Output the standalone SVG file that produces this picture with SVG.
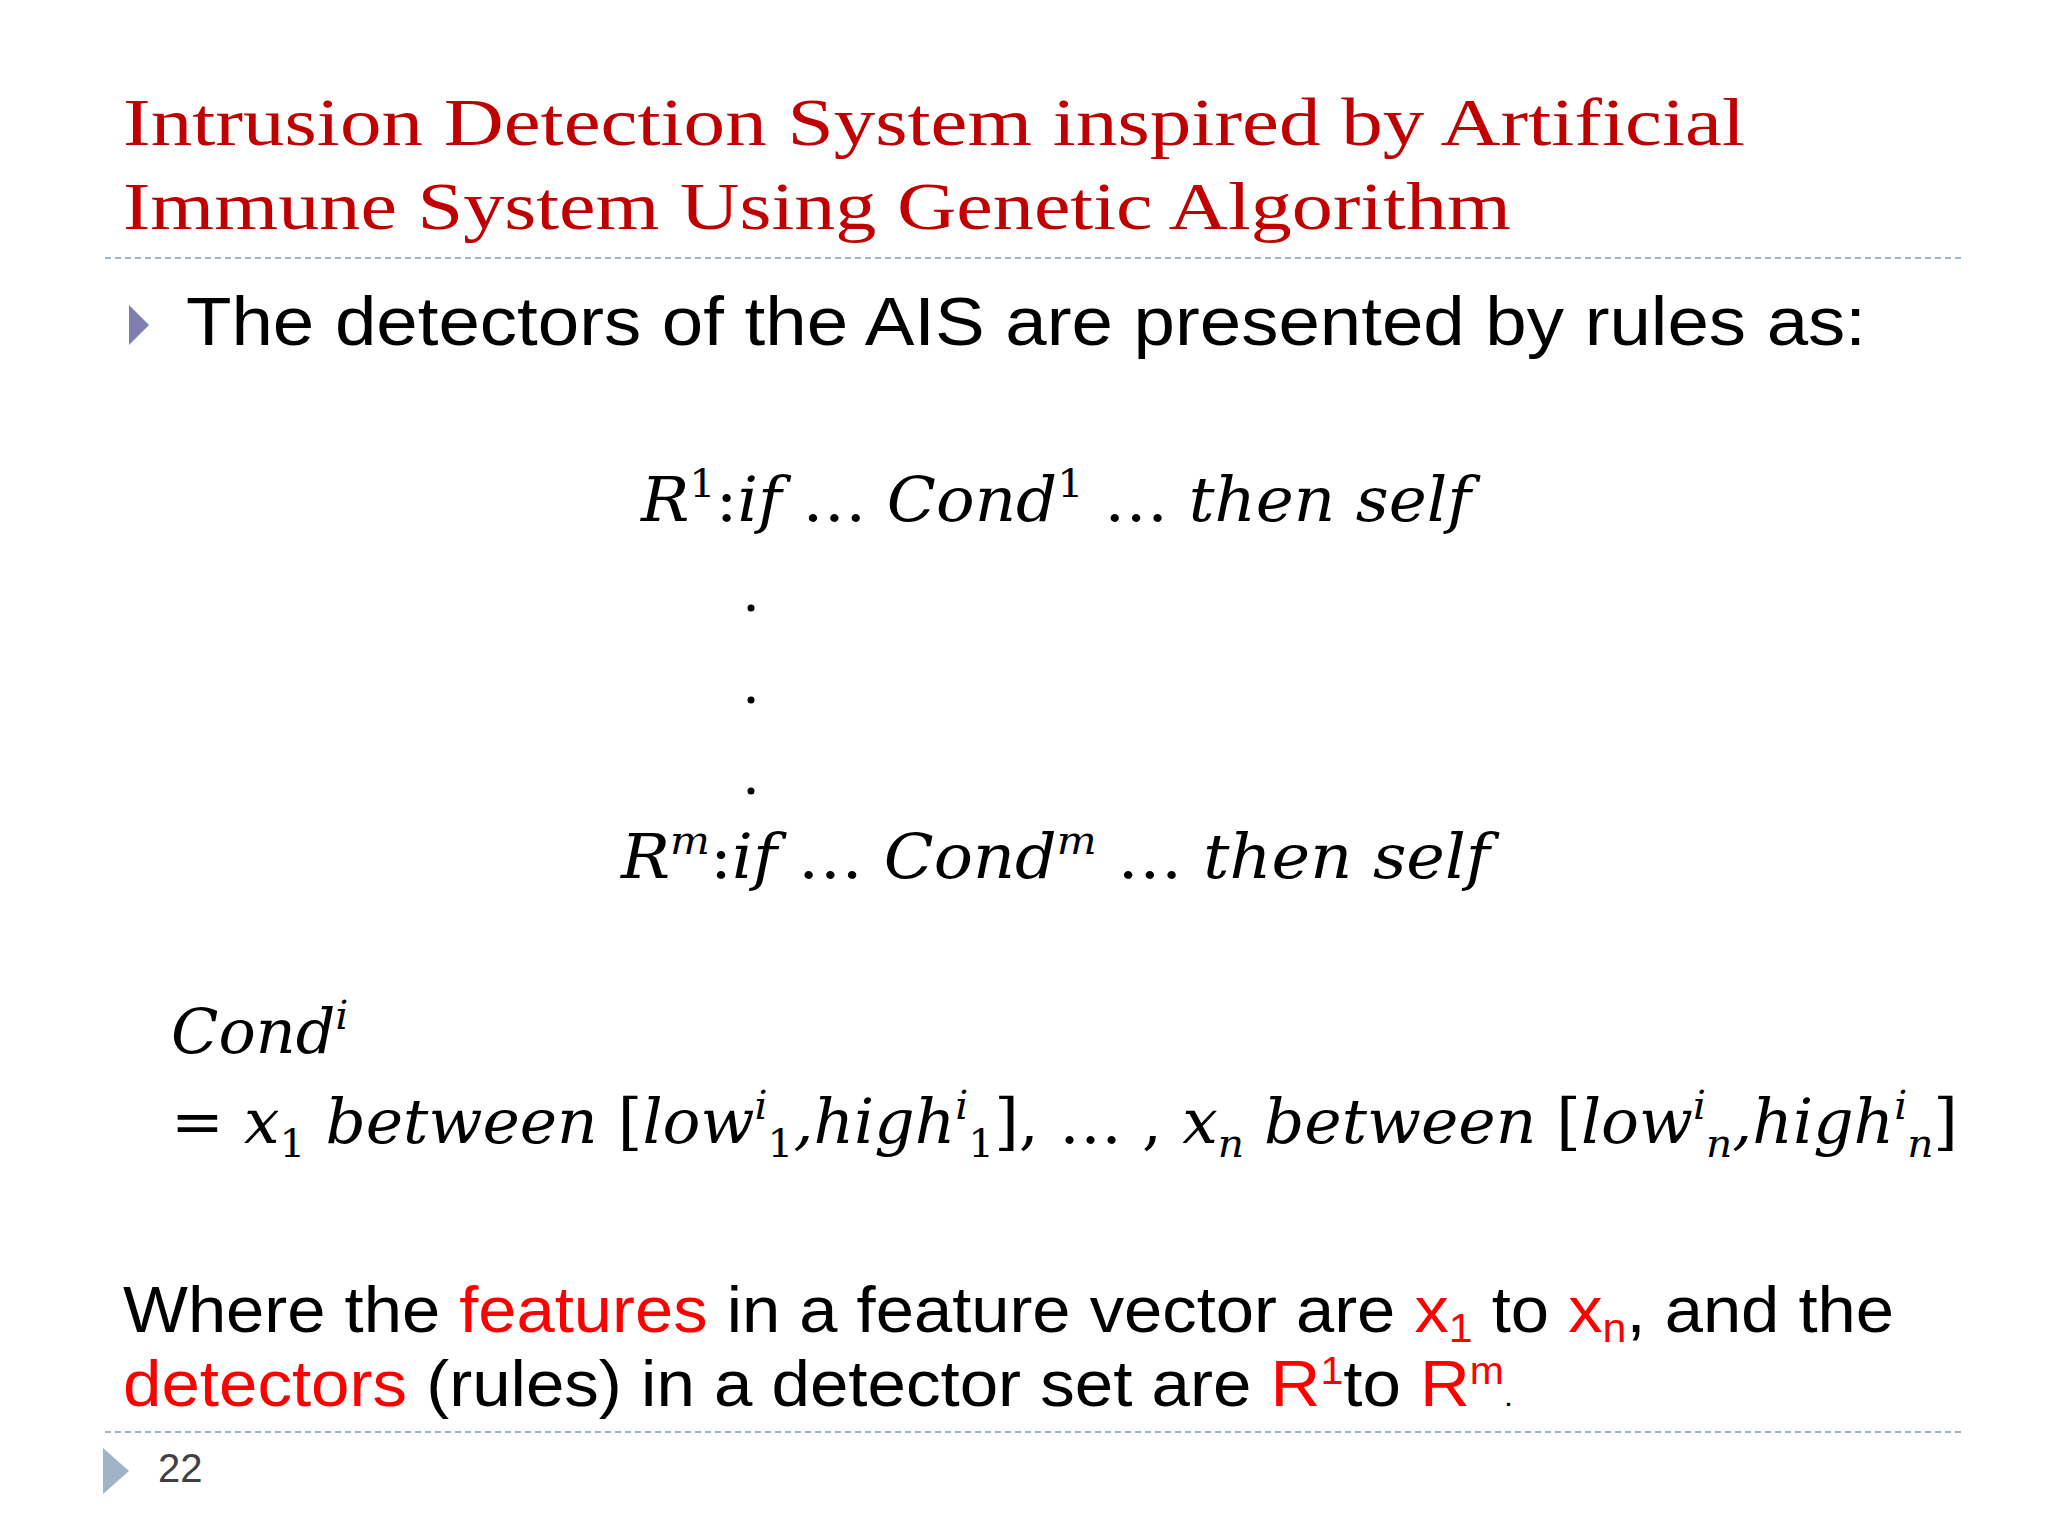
<svg xmlns="http://www.w3.org/2000/svg" width="2048" height="1536" viewBox="0 0 2048 1536">
<style>
.t{font-family:"Liberation Serif",serif;fill:#C00000;font-size:68px}
.b{font-family:"Liberation Sans",Arial,sans-serif;fill:#000}
.m{font-family:"DejaVu Serif","Liberation Serif",serif;font-style:italic;font-size:62px;fill:#000}
.r{fill:#FF0000}
.d{stroke:#A0B4C8;stroke-width:2;stroke-dasharray:6 4}
</style>
<rect width="2048" height="1536" fill="#fff"/>
<g id="title">
<text class="t" x="123" y="145" textLength="1622" lengthAdjust="spacingAndGlyphs">Intrusion Detection System inspired by Artificial</text>
<text class="t" x="123" y="229" textLength="1388" lengthAdjust="spacingAndGlyphs">Immune System Using Genetic Algorithm</text>
</g>
<line class="d" x1="105" y1="258" x2="1961" y2="258"/>
<g id="bullet">
<polygon points="129,305 149,325 129,345" fill="#7F7FAF"/>
<text class="b" x="186" y="345" font-size="69" textLength="1680" lengthAdjust="spacingAndGlyphs">The detectors of the AIS are presented by rules as:</text>
</g>
<g id="rules">
<text class="m" x="641" y="521" textLength="830" lengthAdjust="spacingAndGlyphs">R<tspan dy="-24" font-size="40" font-style="normal">1</tspan><tspan dy="24" font-style="normal">:</tspan>if  <tspan font-style="normal">…</tspan> Cond<tspan dy="-24" font-size="40" font-style="normal">1</tspan><tspan dy="24"> </tspan><tspan font-style="normal">…</tspan> then self</text>
<circle cx="751" cy="608" r="3.5"/>
<circle cx="751" cy="700" r="3.5"/>
<circle cx="751" cy="791" r="3.5"/>
<text class="m" x="621" y="878" textLength="869" lengthAdjust="spacingAndGlyphs">R<tspan dy="-24" font-size="40">m</tspan><tspan dy="24" font-style="normal">:</tspan>if  <tspan font-style="normal">…</tspan> Cond<tspan dy="-24" font-size="40">m</tspan><tspan dy="24"> </tspan><tspan font-style="normal">…</tspan> then self</text>
</g>
<g id="cond">
<text class="m" x="171" y="1053">Cond<tspan dy="-24" font-size="40">i</tspan></text>
<text class="m" x="171" y="1143" textLength="1787" lengthAdjust="spacingAndGlyphs"><tspan font-style="normal">=</tspan>  x<tspan dy="14" font-size="40" font-style="normal">1</tspan><tspan dy="-14"> between </tspan><tspan font-style="normal">[</tspan>low<tspan dy="-24" font-size="40">i</tspan><tspan dy="38" font-size="40" font-style="normal">1</tspan><tspan dy="-14">,high</tspan><tspan dy="-24" font-size="40">i</tspan><tspan dy="38" font-size="40" font-style="normal">1</tspan><tspan dy="-14" font-style="normal">], … ,</tspan> x<tspan dy="14" font-size="40">n</tspan><tspan dy="-14"> between </tspan><tspan font-style="normal">[</tspan>low<tspan dy="-24" font-size="40">i</tspan><tspan dy="38" font-size="40">n</tspan><tspan dy="-14">,high</tspan><tspan dy="-24" font-size="40">i</tspan><tspan dy="38" font-size="40">n</tspan><tspan dy="-14" font-style="normal">]</tspan></text>
</g>
<g id="where">
<text class="b" x="123" y="1332" font-size="64" textLength="1771" lengthAdjust="spacingAndGlyphs">Where the <tspan class="r">features</tspan> in a feature vector are <tspan class="r">x<tspan dy="10" font-size="40">1</tspan></tspan><tspan dy="-10"> to </tspan><tspan class="r">x<tspan dy="10" font-size="40">n</tspan></tspan><tspan dy="-10">, and the</tspan></text>
<text class="b" x="123" y="1406" font-size="64" textLength="1390" lengthAdjust="spacingAndGlyphs"><tspan class="r">detectors</tspan> (rules) in a detector set are <tspan class="r">R<tspan dy="-22" font-size="38">1</tspan></tspan><tspan dy="22">to </tspan><tspan class="r">R<tspan dy="-22" font-size="38">m</tspan></tspan><tspan dy="22" font-size="30">.</tspan></text>
</g>
<line class="d" x1="105" y1="1432" x2="1961" y2="1432"/>
<g id="footer">
<polygon points="103,1448 129,1471 103,1494" fill="#A0B4C8"/>
<text class="b" x="158" y="1482" font-size="40" style="fill:#404040">22</text>
</g>
</svg>
